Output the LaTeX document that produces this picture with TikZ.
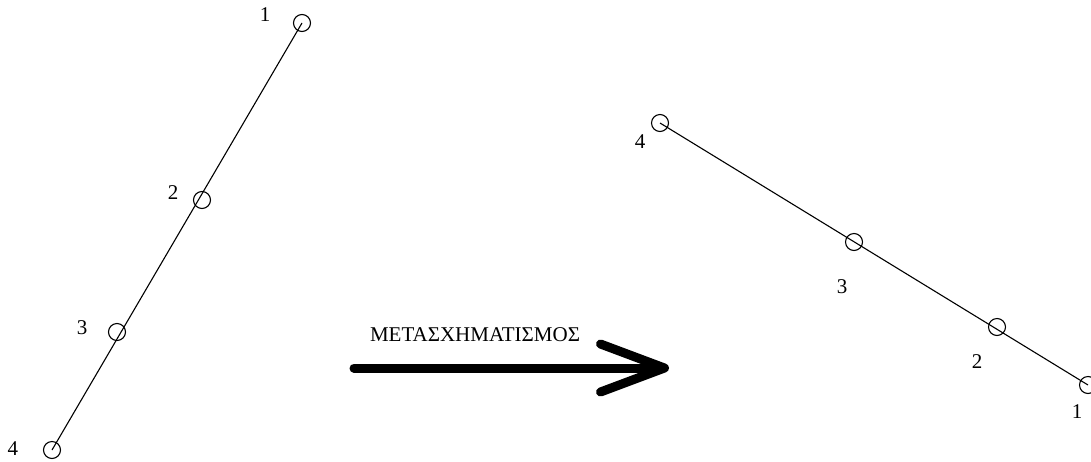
\documentclass[tikz,border=0pt]{standalone}
\usepackage{fontspec}
\setmainfont{Liberation Serif}
\usetikzlibrary{arrows.meta}

\tikzset{
  pin/.style={draw, circle, minimum size=17pt, inner sep=0pt, line width=1.1pt},
  num/.style={font=\fontsize{21}{25}\selectfont, inner sep=0pt},
  bar/.style={line width=1.1pt},
}

\begin{document}
\begin{tikzpicture}[x=1pt,y=-1pt]
\useasboundingbox (0,0) rectangle (1091,461);

%---------------------------------------
% Left: points before
%---------------------------------------
\foreach \n/\px/\py/\lx/\ly in {1/302/23/265/15, 2/202/200/173/193,
                                3/117/332/82/328, 4/52/450/13/449}{
  \node[pin] (L\n) at (\px,\py) {};
  \node[num] (lL\n) at (\lx,\ly) {\n};
}
\draw[bar] (L1.center) -- (L4.center);

%---------------------------------------
% Right: points after
%---------------------------------------
\foreach \n/\px/\py/\lx/\ly in {4/660/123/640/142, 3/854/242/842/287,
                                2/997/327/977/362, 1/1088/385/1077/412}{
  \node[pin] (R\n) at (\px,\py) {};
  \node[num] (lR\n) at (\lx,\ly) {\n};
}
\draw[bar] (R4.center) -- (R1.center);

%---------------------------------------
% Arrow with title
%---------------------------------------
\coordinate (tail) at (354,368);
\coordinate (head) at (669,368);
\draw[line width=9pt, line cap=round,
      -{Straight Barb[length=64pt, width=48pt, round]}] (tail) -- (head);
\node[num] (title) at (475,335) {ΜΕΤΑΣΧΗΜΑΤΙΣΜΟΣ};

\end{tikzpicture}
\end{document}
